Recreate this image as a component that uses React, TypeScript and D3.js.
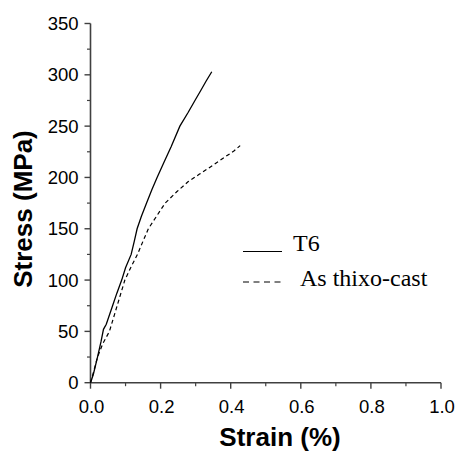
import React from "react";
import * as d3 from "d3";

const t6Strain = [0, 0.008, 0.02, 0.03, 0.037, 0.045, 0.063, 0.075, 0.089, 0.1, 0.116, 0.125, 0.133, 0.145, 0.16, 0.175, 0.19, 0.21, 0.23, 0.255, 0.278, 0.298, 0.315, 0.33, 0.346];
const t6Stress = [0, 8, 25, 40, 52, 57, 75, 87, 100, 112, 125, 138, 150, 162, 175, 188, 200, 215, 230, 250, 263, 275, 285, 294, 303];

const castStrain = [0, 0.01, 0.02, 0.035, 0.054, 0.076, 0.098, 0.116, 0.134, 0.15, 0.165, 0.19, 0.213, 0.246, 0.279, 0.31, 0.341, 0.384, 0.41, 0.427];
const castStress = [0, 12, 25, 38, 50, 75, 100, 113, 125, 138, 150, 163, 175, 186, 196, 203, 210, 220, 226, 231];

const xTicks = [0, 0.2, 0.4, 0.6, 0.8, 1.0];
const yTicks = [0, 50, 100, 150, 200, 250, 300, 350];
const legendLabels = ["T6", "As thixo-cast"];

export default function App() {
  const x = d3.scaleLinear().domain([0, 1]).range([90.5, 441]);
  const y = d3.scaleLinear().domain([0, 350]).range([382.7, 23.5]);
  const line = d3.line<[number, number]>().x(d => x(d[0])).y(d => y(d[1]));
  const t6 = t6Strain.map((s, i) => [s, t6Stress[i]] as [number, number]);
  const cast = castStrain.map((s, i) => [s, castStress[i]] as [number, number]);
  const xMinor = d3.range(0.1, 1.0, 0.2);
  const yMinor = d3.range(25, 350, 50);
  const axisColor = "#404040";
  const font = "'Liberation Sans', Arial, sans-serif";
  const serif = "'Liberation Serif', 'Times New Roman', serif";
  return (
    <svg width={460} height={451} style={{ position: "absolute", left: 0, top: 0, background: "#fff" }}>
      <rect width={460} height={451} fill="#fff" />
      {/* axes */}
      <line x1={x(0)} x2={x(0)} y1={y(0)} y2={y(350)} stroke={axisColor} strokeWidth={1.6} />
      <line x1={x(0)} x2={x(1)} y1={y(0)} y2={y(0)} stroke={axisColor} strokeWidth={1.6} />
      {yTicks.map(t => (
        <g key={"y" + t}>
          <line x1={x(0) - 6} x2={x(0)} y1={y(t)} y2={y(t)} stroke={axisColor} strokeWidth={1.4} />
          <text x={x(0) - 12} y={y(t)} dy="0.36em" textAnchor="end" fontFamily={font} fontSize={18.5}>{t}</text>
        </g>
      ))}
      {yMinor.map(t => (
        <line key={"ym" + t} x1={x(0) - 3.5} x2={x(0)} y1={y(t)} y2={y(t)} stroke={axisColor} strokeWidth={1.2} />
      ))}
      {xTicks.map(t => (
        <g key={"x" + t}>
          <line x1={x(t)} x2={x(t)} y1={y(0)} y2={y(0) + 6} stroke={axisColor} strokeWidth={1.4} />
          <text x={x(t) + 1} y={413} textAnchor="middle" fontFamily={font} fontSize={18.5}>{t.toFixed(1)}</text>
        </g>
      ))}
      {xMinor.map(t => (
        <line key={"xm" + t} x1={x(t)} x2={x(t)} y1={y(0)} y2={y(0) + 3.5} stroke={axisColor} strokeWidth={1.2} />
      ))}
      {/* titles */}
      <text x={280} y={446} textAnchor="middle" fontFamily={font} fontWeight="bold" fontSize={26}>Strain (%)</text>
      <text transform="translate(32,209) rotate(-90)" textAnchor="middle" fontFamily={font} fontWeight="bold" fontSize={26}>Stress (MPa)</text>
      {/* curves */}
      <path d={line(t6) || ""} fill="none" stroke="#000" strokeWidth={1.3} />
      <path d={line(cast) || ""} fill="none" stroke="#000" strokeWidth={1.2} strokeDasharray="4,3" />
      {/* legend */}
      <line x1={243} x2={282} y1={251.5} y2={251.5} stroke="#000" strokeWidth={1.2} />
      <text x={293} y={250.5} fontFamily={serif} fontSize={24}>{legendLabels[0]}</text>
      <line x1={243} x2={282} y1={282} y2={282} stroke="#000" strokeWidth={1.2} strokeDasharray="6,4.5" />
      <text x={300} y={285.5} fontFamily={serif} fontSize={24}>{legendLabels[1]}</text>
    </svg>
  );
}
